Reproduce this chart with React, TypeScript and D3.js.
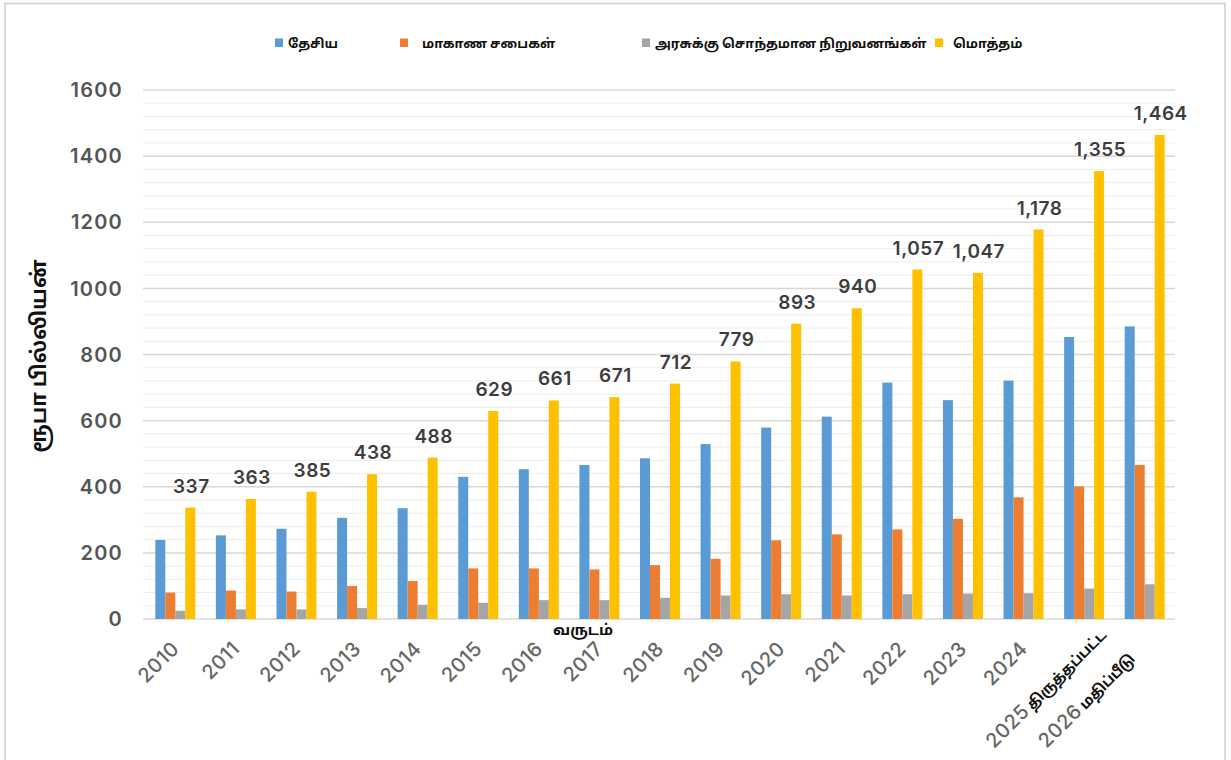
import React, { useEffect, useRef } from 'react';
import * as d3 from 'd3';

// years on the x axis, with the Tamil note for the last two
const years = ['2010', '2011', '2012', '2013', '2014', '2015', '2016', '2017', '2018',
  '2019', '2020', '2021', '2022', '2023', '2024', '2025', '2026'];
const yearNotes = ['', '', '', '', '', '', '', '', '', '', '', '', '', '', '', 'திருத்தப்பட்ட', 'மதிப்பீடு'];

const seriesNames = ['தேசிய', 'மாகாண சபைகள்', 'அரசுக்கு சொந்தமான நிறுவனங்கள்', 'மொத்தம்'];
const seriesColors = ['#5b9bd5', '#ed7d31', '#a5a5a5', '#ffc000'];

const national = [239, 253, 273, 306, 335, 430, 453, 466, 486, 529, 579, 612, 715, 662, 721, 853, 885];
const provincial = [80, 86, 83, 100, 115, 153, 153, 150, 163, 182, 238, 256, 271, 303, 368, 401, 466];
const stateOwned = [25, 29, 29, 33, 43, 49, 57, 57, 64, 71, 75, 71, 75, 77, 78, 92, 105];
const total = [337, 363, 385, 438, 488, 629, 661, 671, 712, 779, 893, 940, 1057, 1047, 1178, 1355, 1464];

const yTicks = [0, 200, 400, 600, 800, 1000, 1200, 1400, 1600];

// layout
const W = 1231;
const H = 760;
const plot = { left: 145, right: 1175, top: 90, bottom: 619 };
const legendX = [275, 400, 642, 935];
const legendGap = [13, 22, 13, 18];
const labelNudge = { '2025': [18, -14], '2026': [-14, 10] };

const App = () => {
  const svgRef = useRef();

  useEffect(() => {
    const svg = d3.select(svgRef.current);
    svg.selectAll('*').remove();

    const font = "Inter, 'Noto Sans', 'Noto Sans Tamil', sans-serif";
    const series = [national, provincial, stateOwned, total];

    const x0 = d3.scaleBand()
      .domain(years)
      .range([plot.left, plot.right])
      .paddingInner(0.34)
      .paddingOuter(0.17);

    const x1 = d3.scaleBand()
      .domain(d3.range(series.length))
      .range([0, x0.bandwidth()])
      .padding(0);

    const y = d3.scaleLinear()
      .domain([0, 1600])
      .range([plot.bottom, plot.top]);

    // frame
    svg.append('path')
      .attr('d', `M5,${H} V3.5 H1225 V${H}`)
      .attr('fill', 'none')
      .attr('stroke', '#cfcfcf')
      .attr('stroke-width', 1.5);

    // minor gridlines
    const minor = d3.range(40, 1600, 40).filter(v => v % 200 !== 0);
    svg.append('g')
      .selectAll('line')
      .data(minor)
      .enter()
      .append('line')
      .attr('x1', plot.left - 2)
      .attr('x2', plot.right)
      .attr('y1', d => y(d))
      .attr('y2', d => y(d))
      .attr('stroke', '#efeded')
      .attr('stroke-width', 1);

    // major gridlines
    svg.append('g')
      .selectAll('line')
      .data(yTicks)
      .enter()
      .append('line')
      .attr('x1', plot.left - 2)
      .attr('x2', plot.right)
      .attr('y1', d => y(d))
      .attr('y2', d => y(d))
      .attr('stroke', '#dcd7d4')
      .attr('stroke-width', 1.5);

    // y tick labels
    svg.append('g')
      .selectAll('text')
      .data(yTicks)
      .enter()
      .append('text')
      .attr('x', 123)
      .attr('y', d => y(d))
      .attr('dy', '0.36em')
      .attr('text-anchor', 'end')
      .attr('font-family', font)
      .attr('font-size', 20)
      .attr('font-weight', 600)
      .attr('letter-spacing', 1.2)
      .attr('fill', '#555')
      .text(d => d);

    // bars
    const groups = svg.append('g')
      .selectAll('g')
      .data(years)
      .enter()
      .append('g')
      .attr('transform', d => `translate(${x0(d)},0)`);

    groups.selectAll('rect')
      .data((_, i) => series.map((s, k) => ({ k, v: s[i] })))
      .enter()
      .append('rect')
      .attr('x', d => x1(d.k))
      .attr('y', d => y(d.v))
      .attr('width', x1.bandwidth())
      .attr('height', d => y(0) - y(d.v))
      .attr('fill', d => seriesColors[d.k]);

    // total value labels
    const fmt = d3.format(',');
    svg.append('g')
      .selectAll('text')
      .data(years)
      .enter()
      .append('text')
      .attr('x', (d, i) => x0(d) + x1(3) + x1.bandwidth() / 2 + 1)
      .attr('y', (d, i) => y(total[i]) - 15)
      .attr('text-anchor', 'middle')
      .attr('font-family', font)
      .attr('font-size', 19)
      .attr('font-weight', 600)
      .attr('letter-spacing', 0.5)
      .attr('fill', '#3d3d3d')
      .text((d, i) => fmt(total[i]));

    // x tick labels, rotated
    years.forEach((yr, i) => {
      const nudge = labelNudge[yr] || [0, 0];
      const cx = x0(yr) + x0.bandwidth() / 2 + 5 + nudge[0];
      const cy = 650 + nudge[1];
      const t = svg.append('text')
        .attr('transform', `translate(${cx},${cy}) rotate(-45)`)
        .attr('text-anchor', 'end')
        .attr('font-family', font)
        .attr('font-size', 20)
        .attr('font-weight', 500)
        .attr('letter-spacing', 0.4)
        .attr('fill', '#666');
      t.append('tspan').text(yr);
      if (yearNotes[i]) {
        t.append('tspan')
          .attr('fill', '#111')
          .attr('font-weight', 700)
          .attr('font-size', 14.5)
          .attr('letter-spacing', -0.2)
          .text(' ' + yearNotes[i]);
      }
    });

    // axis titles
    svg.append('text')
      .attr('x', 583)
      .attr('y', 635)
      .attr('text-anchor', 'middle')
      .attr('font-family', font)
      .attr('font-size', 15)
      .attr('font-weight', 700)
      .attr('fill', '#111')
      .text('வருடம்');

    svg.append('text')
      .attr('transform', 'translate(39,356) rotate(-90)')
      .attr('dy', '0.35em')
      .attr('text-anchor', 'middle')
      .attr('font-family', font)
      .attr('font-size', 21)
      .attr('font-weight', 700)
      .attr('fill', '#111')
      .text('ரூபா பில்லியன்');

    // legend
    const legend = svg.append('g')
      .selectAll('g')
      .data(seriesNames)
      .enter()
      .append('g')
      .attr('transform', (d, i) => `translate(${legendX[i]},43)`);

    legend.append('rect')
      .attr('x', 0)
      .attr('y', -4.5)
      .attr('width', 8)
      .attr('height', 8.5)
      .attr('fill', (d, i) => seriesColors[i]);

    legend.append('text')
      .attr('x', (d, i) => legendGap[i])
      .attr('dy', '0.35em')
      .attr('font-family', font)
      .attr('font-size', 13)
      .attr('font-weight', 700)
      .attr('fill', '#111')
      .text(d => d);
  }, []);

  return (
    <svg ref={svgRef} width={W} height={H}
      style={{ position: 'absolute', left: 0, top: 0, background: '#fff' }} />
  );
};

export default App;
